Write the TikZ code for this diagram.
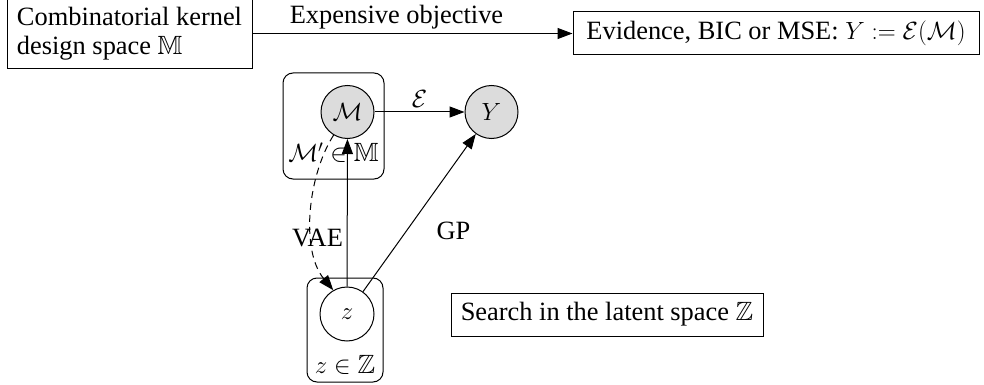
\documentclass[tikz,border=0pt]{standalone}
\usepackage{amssymb}
\usepackage{fontspec}
\setmainfont{Liberation Serif}
\usetikzlibrary{arrows.meta}
\definecolor{nodegray}{RGB}{220,220,220}
\begin{document}
\begin{tikzpicture}[x=1pt,y=-1pt,
  every node/.style={font=\fontsize{26.4}{29}\selectfont},
  box/.style={draw, line width=1pt, inner sep=0pt},
  plate/.style={draw, line width=1pt, rounded corners=10pt, inner sep=0pt},
  var/.style={draw, circle, line width=1pt, inner sep=0pt, minimum size=53pt},
  arr/.style={line width=1pt, -{Triangle[length=15pt,width=11pt]}},
  lbl/.style={inner sep=0pt}
]
\useasboundingbox (0,0) rectangle (984,385);
% top row
\node[box, minimum width=245pt, minimum height=70pt, align=left] (cks) at (129.5,34)
  {Combinatorial kernel\\design space $\mathbb{M}$};
\node[box, minimum width=406pt, minimum height=43pt] (ev) at (776,33.5)
  {Evidence, BIC or MSE: $Y := \mathcal{E}(\mathcal{M})$};
\draw[arr] (cks.east |- ev.west) -- node[above, pos=0.45, inner sep=4pt] {Expensive objective} (ev.west);
% plates
\node[plate, minimum width=101pt, minimum height=106pt] (P1) at (333.5,126) {};
\node[plate, minimum width=76pt, minimum height=104pt] (P2) at (345,330) {};
\node[lbl] (P1l) at (333.5,153) {$\mathcal{M}'\in\mathbb{M}$};
\node[lbl] (P2l) at (345,365) {$z\in\mathbb{Z}$};
% variables
\node[var, fill=nodegray] (M) at (347.5,112) {$\mathcal{M}$};
\node[var, fill=nodegray] (Y) at (491.5,112) {$Y$};
\node[var, fill=white, minimum size=54pt] (z) at (347,314) {$z$};
% search box
\node[box, minimum width=312pt, minimum height=43pt] (search) at (607,314.5)
  {Search in the latent space $\mathbb{Z}$};
% edges
\draw[arr] (M) -- node[above, inner sep=4pt] {$\mathcal{E}$} (Y);
\draw[arr] (z) -- (M);
\draw[arr] (z) -- node[pos=0.385, xshift=47pt, lbl] {GP} (Y);
\draw[arr, dash pattern=on 7pt off 5pt] (M.239) .. controls (308,175) and (300,250) ..
  node[pos=0.65, xshift=5pt, lbl] {VAE} (z.120);
\end{tikzpicture}
\end{document}
